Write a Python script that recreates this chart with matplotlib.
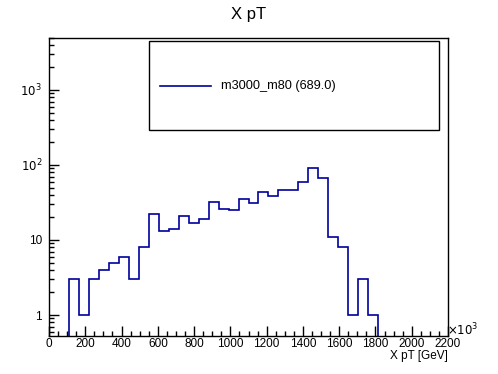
import numpy as np
import matplotlib

matplotlib.use("Agg")
from matplotlib import pyplot as plt
from matplotlib.ticker import FixedLocator, NullFormatter
from matplotlib.patches import Rectangle
from matplotlib.lines import Line2D

plt.rcParams["font.family"] = ["Liberation Sans", "DejaVu Sans"]

# 40 bins from 0 to 2200
bin_edges = np.linspace(0, 2200, 41)
counts = [0, 0, 3, 1, 3, 4, 5, 6, 3, 8,
          22, 13, 14, 21, 17, 19, 32, 26, 25, 35,
          31, 43, 39, 46, 47, 59, 90, 66, 11, 8,
          1, 3, 1, 0, 0, 0, 0, 0, 0, 0]
legend_label = "m3000_m80 (689.0)"
x_ticks = [0, 200, 400, 600, 800, 1000, 1200, 1400, 1600, 1800, 2000, 2200]
y_ticks = [1, 10, 100, 1000]
y_tick_labels = ["1", "10", "$10^{2}$", "$10^{3}$"]

W, H = 498, 374
fig = plt.figure(figsize=(W / 100, H / 100), dpi=100)
ax = fig.add_axes([49 / W, 1 - 336 / H, (448 - 49) / W, (336 - 37.5) / H])

hist_color = "#00009c"
vals = np.where(np.array(counts) > 0, counts, 1e-3)
ax.stairs(vals, bin_edges, baseline=None, color=hist_color, lw=1.2)

ax.set_yscale("log")
ax.set_xlim(0, 2200)
ax.set_ylim(0.525, 5000)

ax.xaxis.set_major_locator(FixedLocator(x_ticks))
ax.xaxis.set_minor_locator(FixedLocator(np.arange(0, 2201, 50)))
ax.set_xticklabels([str(t) for t in x_ticks])
ax.yaxis.set_major_locator(FixedLocator(y_ticks))
ax.yaxis.set_minor_locator(FixedLocator([m * 10 ** e for e in range(-1, 4) for m in range(2, 10)]))
ax.yaxis.set_minor_formatter(NullFormatter())
ax.set_yticklabels(y_tick_labels)

ax.tick_params(which="both", direction="in", top=False, right=False, width=1, labelsize=8.5, color="black")
ax.tick_params(which="major", length=7)
ax.tick_params(which="minor", length=3.6)
ax.tick_params(axis="x", pad=1.5)
ax.tick_params(axis="y", pad=5)
for s in ax.spines.values():
    s.set_linewidth(1)

fig.text(249 / W, 1 - 14 / H, "X pT", ha="center", va="center", fontsize=12)
fig.text(448 / W, 1 - 356 / H, "X pT [GeV]", ha="right", va="center", fontsize=8.5)
fig.text(447 / W, 1 - 330 / H, r"$\times10^{3}$", ha="left", va="center", fontsize=8.5)

# legend box drawn like ROOT's TLegend
fig.patches.append(Rectangle((149 / W, 1 - 130.3 / H), (438.7 - 149) / W, (130.3 - 41.3) / H,
                             transform=fig.transFigure, fill=True, facecolor="white",
                             edgecolor="black", lw=1, zorder=5))
fig.lines.append(Line2D([160 / W, 211 / W], [1 - 86 / H, 1 - 86 / H], transform=fig.transFigure,
                        color=hist_color, lw=1.2, zorder=6))
fig.text(221 / W, 1 - 86 / H, legend_label, ha="left", va="center", fontsize=9.2, zorder=6)

fig.savefig("out.png", dpi=100)
